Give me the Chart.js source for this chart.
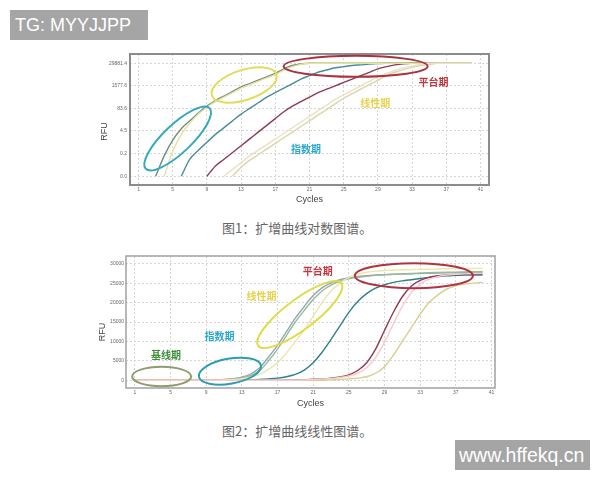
<!DOCTYPE html>
<html>
<head>
<meta charset="utf-8">
<script src="https://cdn.jsdelivr.net/npm/chart.js@4/dist/chart.umd.min.js"></script>
<style>
  body { margin: 0; background: #fff; width: 600px; height: 480px; position: relative; overflow: hidden; }
  canvas { position: absolute; }
  .cap { position: absolute; left: 222px; font: 13px "Noto Sans CJK SC", sans-serif; color: #666; line-height: 18px; white-space: nowrap; }
  .mark { position: absolute; background: #a5a5a5; color: #fff; font-family: "Liberation Sans", Arial, sans-serif; white-space: nowrap; }
</style>
</head>
<body>
<div class="mark" style="left:10px;top:10px;width:133px;height:30px;line-height:30px;font-size:18px;padding-left:5px;">TG: MYYJJPP</div>
<canvas id="logChart" width="410" height="165" style="left:90px;top:44px;"></canvas>
<div class="cap" style="top:219px;">图1：扩增曲线对数图谱。</div>
<canvas id="linChart" width="412" height="165" style="left:88px;top:250px;"></canvas>
<div class="cap" style="top:422px;">图2：扩增曲线线性图谱。</div>
<div class="mark" style="left:455px;top:440px;width:131px;height:30px;line-height:30px;font-size:19.5px;padding-left:4px;">www.hffekq.cn</div>
<script>
var cycles = [1,2,3,4,5,6,7,8,9,10,11,12,13,14,15,16,17,18,19,20,21,22,23,24,25,26,27,28,29,30,31,32,33,34,35,36,37,38,39,40];
var xTicks = [1,5,9,13,17,21,25,29,33,37,41];

// 图1 对数图谱
var logTicks = [0.0126, 0.238, 4.5, 83.6, 1577.6, 29881.4];
var logTickLabels = ['0.0', '0.2', '4.5', '83.6', '1577.6', '29881.4'];
var logGreen = [null,null,0.0126,0.177,1.384,6.01,16.81,46.97,113.4,236.3,425,764.7,1376,2138,3321,5160,8017,14428,22404,27525,
  29881.4,29881.4,29881.4,29881.4,29881.4,29881.4,29881.4,29881.4,29881.4,29881.4,29881.4,29881.4,29881.4,29881.4,29881.4,29881.4,29881.4,29881.4,29881.4,29881.4];
var logYellow = [null,null,null,0.0126,0.319,2.885,12.53,40.55,97.88,203.9,367,660.4,1188,1846,2868,4455,6922,12455,19347,25958,
  29881.4,29881.4,29881.4,29881.4,29881.4,29881.4,29881.4,29881.4,29881.4,29881.4,29881.4,29881.4,29881.4,29881.4,29881.4,29881.4,29881.4,29881.4,29881.4,29881.4];
var logTeal = [null,null,null,null,null,0.0126,0.114,0.369,1.032,2.885,6.965,16.81,40.55,84.54,176.1,367,660.4,1188,2138,3847,5976,9285,12455,16706,19347,22404,24468,26730,28500,
  29881.4,29881.4,29881.4,29881.4,29881.4,29881.4,29881.4,29881.4,29881.4,29881.4,29881.4];
var logMaroon = [null,null,null,null,null,null,null,null,0.0126,0.0473,0.114,0.275,0.664,1.603,3.87,9.34,22.54,54.41,113.4,203.9,367,660.4,1026,1594,2476,3847,5976,9285,14428,19347,24468,28000,
  29881.4,29881.4,29881.4,29881.4,29881.4,29881.4,29881.4,29881.4];
var logBeige = [null,null,null,null,null,null,null,null,null,null,null,0.0126,0.0408,0.0984,0.205,0.428,0.891,1.857,3.87,8.065,16.81,35.03,72.98,152.1,316.9,570.2,1026,1846,3321,5976,9285,13208,17716,22404,25958,
  29881.4,29881.4,29881.4,29881.4,29881.4];
var logBeige2 = [null,null,null,null,null,null,null,null,null,null,0.0126,0.0304,0.0734,0.177,0.369,0.769,1.603,3.342,6.965,14.51,30.23,63.03,131.3,273.6,492.3,885.7,1594,2868,5160,8017,11743,16706,21129,25958,
  29881.4,29881.4,29881.4,29881.4,29881.4,29881.4];

// 图2 线性图谱
var linTicks = [0, 5000, 10000, 15000, 20000, 25000, 30000];
var linBlue = [0,0,0,0,0,0,0,0,0,100,200,400,800,1600,3200,6000,9000,12500,16000,19000,21800,23800,25100,25900,26400,26700,26900,27100,27200,27300,27350,27400,27500,27550,27600,27650,27700,27750,27800,27800];
var linGreen = [0,0,0,0,0,0,0,0,0,80,150,300,600,1200,2500,5000,8000,11500,15000,18000,20800,23000,24500,25500,26100,26500,26800,27000,27150,27300,27400,27500,27600,27700,27750,27800,27850,27900,27950,28000];
var linYellow = [0,0,0,0,0,0,0,0,0,0,100,200,400,800,1500,2800,4500,7000,10000,13000,16500,20000,23000,25000,26500,27300,27800,28100,28250,28400,28450,28500,28550,28600,28650,28700,28750,28800,28800,28800];
var linTeal = [0,0,0,0,0,0,0,0,0,0,0,0,0,100,200,350,550,900,1500,2600,4500,7200,10500,14000,17500,20300,22300,23700,24600,25200,25600,25900,26200,26500,26700,26900,27000,27100,27100,27100];
var linMaroon = [0,0,0,0,0,0,0,0,0,0,0,0,0,0,0,0,0,50,100,150,250,350,550,850,1400,2500,4500,8000,12800,17500,21500,24200,25700,26500,26900,27100,27200,27300,27300,27300];
var linPink = [0,0,0,0,0,0,0,0,0,0,0,0,0,0,0,0,0,0,0,100,200,300,450,700,1100,1800,3200,5800,9800,14500,19000,22500,24800,26000,26700,27100,27300,27400,27500,27500];
var linBeige = [0,0,0,0,0,0,0,0,0,0,0,0,0,0,0,0,0,0,0,0,0,0,100,200,350,550,900,1800,3500,6500,10000,13500,17000,20000,22000,23500,24300,24800,25000,25200];

var phases = {
  id: 'phases',
  afterDatasetsDraw: function (chart, args, opts) {
    var ctx = chart.ctx, a = chart.chartArea, x = chart.scales.x, y = chart.scales.y;
    ctx.save();
    ctx.strokeStyle = opts.frame;
    ctx.lineWidth = opts.frameWidth;
    ctx.strokeRect(a.left, a.top, a.right - a.left, a.bottom - a.top);
    opts.rings.forEach(function (r) {
      ctx.beginPath();
      ctx.ellipse(x.getPixelForValue(r.cycle), y.getPixelForValue(r.rfu), r.rx, r.ry, r.rot * Math.PI / 180, 0, Math.PI * 2);
      ctx.strokeStyle = r.color;
      ctx.lineWidth = 2;
      ctx.stroke();
    });
    ctx.textAlign = 'center';
    ctx.textBaseline = 'middle';
    ctx.font = 'bold 10px "Noto Sans CJK SC"';
    opts.tags.forEach(function (t) {
      ctx.fillStyle = t.color;
      ctx.fillText(t.text, x.getPixelForValue(t.cycle), y.getPixelForValue(t.rfu));
    });
    // y title
    ctx.font = '9px "Liberation Sans"';
    ctx.fillStyle = '#444';
    ctx.translate(a.left + opts.titleDx, (a.top + a.bottom) / 2 + opts.titleDy);
    ctx.rotate(-Math.PI / 2);
    ctx.fillText('RFU', 0, 0);
    ctx.restore();
  }
};

function lineSet(data, color, width) {
  return { data: data, borderColor: color, borderWidth: width || 1.4, pointRadius: 0, fill: false, cubicInterpolationMode: 'monotone' };
}

function axisX(max, height, pad) {
  return {
    type: 'linear', min: 0, max: max,
    afterBuildTicks: function (s) { s.ticks = xTicks.map(function (v) { return { value: v }; }); },
    afterFit: function (s) { s.height = height; },
    grid: { color: '#d6d6d6', drawTicks: false },
    border: { display: false, dash: [2, 2] },
    ticks: { padding: 2, color: '#666', font: { size: 5, family: 'Liberation Sans' } },
    title: { display: true, text: 'Cycles', color: '#444', padding: { top: 0, bottom: pad }, font: { size: 9, family: 'Liberation Sans' } }
  };
}

new Chart(document.getElementById('logChart'), {
  type: 'line',
  data: {
    labels: cycles,
    datasets: [
      lineSet(logBeige2, '#e9e2c4'),
      lineSet(logBeige, '#dcd5a6'),
      lineSet(logYellow, '#e6e19c'),
      lineSet(logMaroon, '#8e3b52'),
      lineSet(logTeal, '#4a8c9c'),
      lineSet(logGreen, '#6f8f7a')
    ]
  },
  options: {
    responsive: false, animation: false, devicePixelRatio: 1,
    layout: { padding: { top: 10, right: 11, left: 0, bottom: 0 } },
    plugins: {
      legend: { display: false }, tooltip: { enabled: false },
      phases: {
        frame: '#8c8c8c', frameWidth: 2, titleDx: -25, titleDy: 12,
        rings: [
          { cycle: 5.58, rfu: 1.7, rx: 44, ry: 14, rot: -43.5, color: '#37a9bf' },
          { cycle: 13.36, rfu: 1790, rx: 34, ry: 15, rot: -18, color: '#e2dc5a' },
          { cycle: 26.4, rfu: 20200, rx: 72, ry: 10.5, rot: 0, color: '#a8323f' }
        ],
        tags: [
          { text: '平台期', cycle: 35.5, rfu: 2700, color: '#c0343c' },
          { text: '线性期', cycle: 28.7, rfu: 176, color: '#e8d24c' },
          { text: '指数期', cycle: 20.6, rfu: 0.424, color: '#29a8cc' }
        ]
      }
    },
    scales: {
      x: axisX(42, 24, 4),
      y: {
        type: 'logarithmic', min: 0.004, max: 100000,
        afterBuildTicks: function (s) { s.ticks = logTicks.map(function (v) { return { value: v }; }); },
        afterFit: function (s) { s.width = 40; },
        grid: { color: '#d6d6d6', drawTicks: false },
        border: { display: false, dash: [2, 2] },
        ticks: { padding: 3, color: '#666', font: { size: 5, family: 'Liberation Sans' },
          callback: function (v, i) { return logTickLabels[i]; } }
      }
    }
  },
  plugins: [phases]
});

new Chart(document.getElementById('linChart'), {
  type: 'line',
  data: {
    labels: cycles,
    datasets: [
      lineSet(linPink, '#f3cccc'),
      lineSet(linYellow, '#ece6aa'),
      lineSet(linBeige, '#d6d08f'),
      lineSet(linMaroon, '#923a55'),
      lineSet(linTeal, '#2f7e8e'),
      lineSet(linGreen, '#9cb89a'),
      lineSet(linBlue, '#8fa9b4')
    ]
  },
  options: {
    responsive: false, animation: false, devicePixelRatio: 1,
    layout: { padding: { top: 6, right: 5, left: 0, bottom: 0 } },
    plugins: {
      legend: { display: false }, tooltip: { enabled: false },
      phases: {
        frame: '#a0a0a0', frameWidth: 1.5, titleDx: -23, titleDy: 10,
        rings: [
          { cycle: 4.0, rfu: 960, rx: 29.5, ry: 9.7, rot: 0, color: '#8f9c70' },
          { cycle: 11.66, rfu: 2340, rx: 31.5, ry: 12.5, rot: -10, color: '#2b9db3' },
          { cycle: 19.5, rfu: 16930, rx: 52, ry: 15, rot: -37, color: '#dedb45' },
          { cycle: 32.3, rfu: 26930, rx: 59, ry: 12.5, rot: 0, color: '#b0343f' }
        ],
        tags: [
          { text: '平台期', cycle: 21.5, rfu: 28100, color: '#c8343e' },
          { text: '线性期', cycle: 15.2, rfu: 21600, color: '#e6d24a' },
          { text: '指数期', cycle: 10.5, rfu: 11300, color: '#2aa6cc' },
          { text: '基线期', cycle: 4.5, rfu: 6430, color: '#3d8c3a' }
        ]
      }
    },
    scales: {
      x: axisX(41.4, 27, 6),
      y: {
        type: 'linear', min: -2000, max: 32000,
        afterBuildTicks: function (s) { s.ticks = linTicks.map(function (v) { return { value: v }; }); },
        afterFit: function (s) { s.width = 38; },
        grid: { color: '#d6d6d6', drawTicks: false },
        border: { display: false, dash: [2, 2] },
        ticks: { padding: 2, color: '#666', font: { size: 5, family: 'Liberation Sans' },
          callback: function (v) { return String(v); } }
      }
    }
  },
  plugins: [phases]
});
</script>
</body>
</html>
